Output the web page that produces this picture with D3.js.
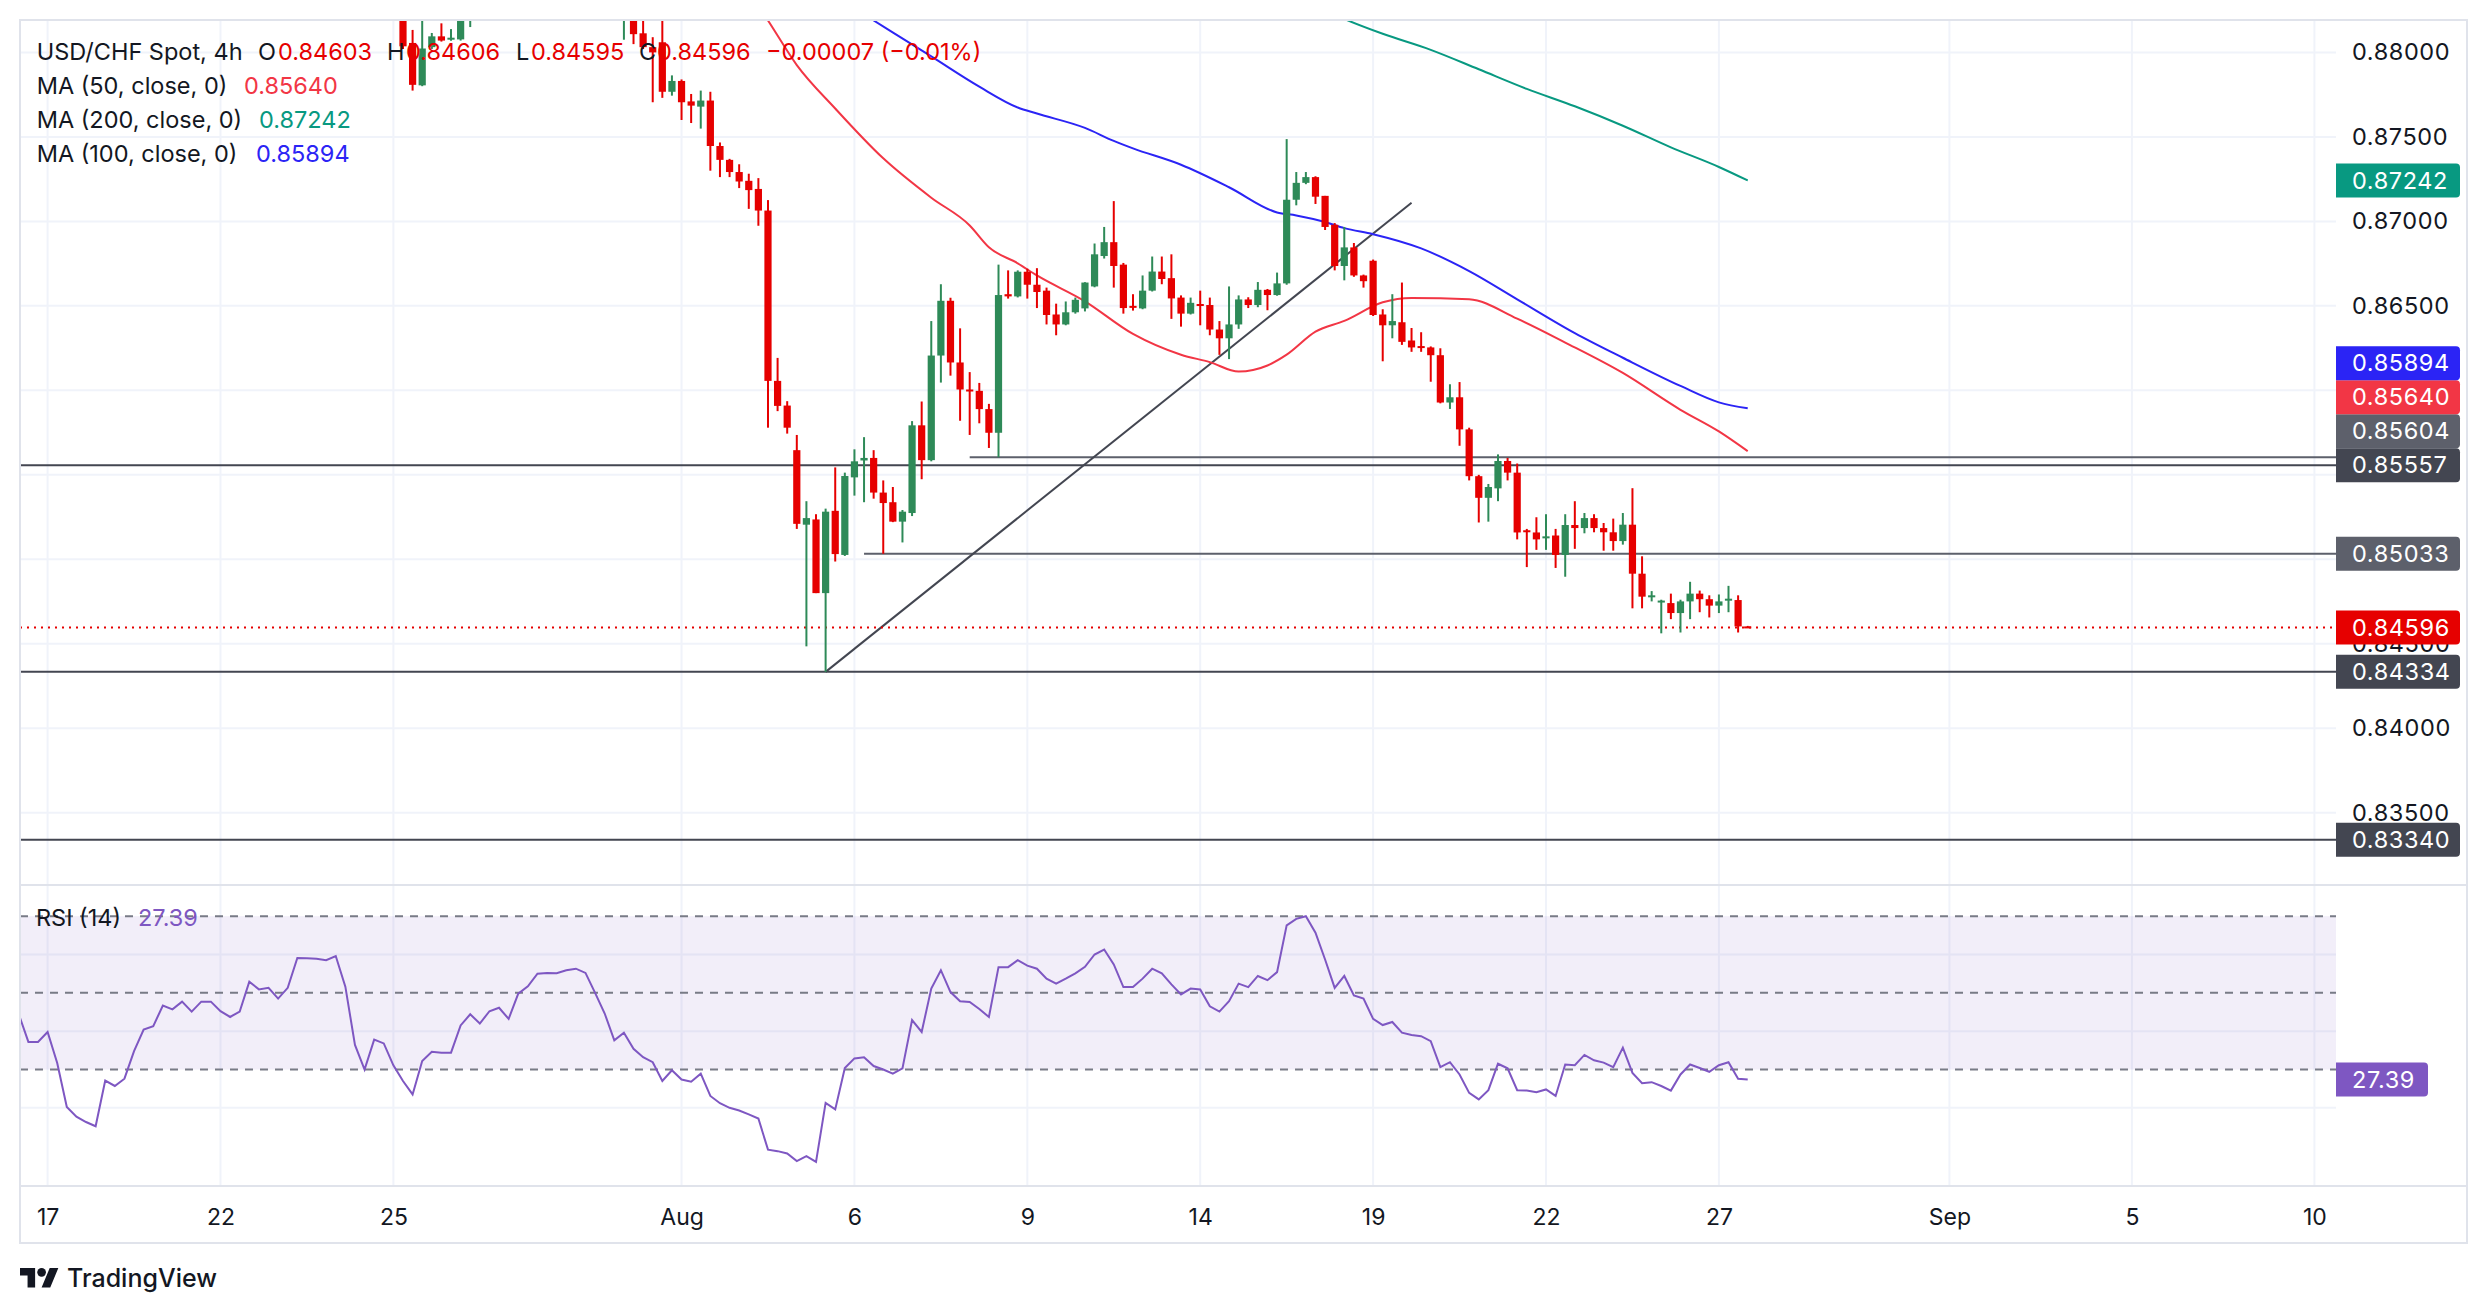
<!DOCTYPE html>
<html><head><meta charset="utf-8">
<script src="https://cdn.jsdelivr.net/npm/d3@7"></script>
<style>html,body{margin:0;padding:0;background:#fff;overflow:hidden}svg{display:block;font-family:Inter,"Noto Sans",sans-serif}</style>
</head><body><svg id="c" width="2488" height="1314"></svg>
<script>
// ---------------- DATA ----------------
const candleStart = 37; // bar index of first candle (bar 0 = Jul 17 first 4h bar)
const opens = [0.8832,0.88056,0.87805,0.88031,0.88095,0.88082,0.88077,
0.8819,0.8826,0.8823,0.8830,0.8832,0.8827,0.8846,0.8854,0.8870,0.8872,0.8871,0.8878,0.8882,0.8876,0.8860,
0.8840,0.8826,0.8830,0.88113,0.88031,0.8806,0.87767,0.87831,0.8771,0.87679,0.87715,0.87446,0.87364,0.87292,0.8724,0.87192,
0.87064,0.86056,0.8591,0.85646,0.85205,0.85236,0.848,0.85287,0.85026,0.85485,0.85585,0.856,0.85395,0.85338,0.85223,
0.85274,0.85793,0.85587,0.86206,0.8653,0.86165,0.86005,0.85997,0.85889,0.85749,0.86569,0.86556,0.86702,0.86625,0.8659,
0.86449,0.8639,0.86462,0.86485,0.86615,0.86795,0.86877,0.86744,0.865,0.86485,0.8659,0.86703,0.86664,0.86549,0.86454,
0.86511,0.86505,0.8636,0.86308,0.8639,0.86538,0.86505,0.86595,0.86564,0.86633,0.87128,0.87228,0.87262,0.87151,0.8698,
0.86736,0.86846,0.8668,0.86767,0.86449,0.86385,0.86403,0.86295,0.86262,0.86254,0.86208,0.85928,0.85959,0.85769,0.85492,
0.85364,0.8542,0.85582,0.85513,0.85172,0.85159,0.85128,0.85141,0.85026,0.85203,0.85185,0.85244,0.85185,0.8516,0.85108,
0.85205,0.84915,0.84779,0.84748,0.84741,0.84682,0.84751,0.84797,0.84764,0.84726,0.84761,0.84759,0.84603];
const highs = [0.8838,0.88133,0.8826,0.88115,0.88172,0.88138,0.8828,
0.8830,0.8832,0.8834,0.8836,0.8835,0.8850,0.8858,0.8875,0.8878,0.8880,0.8885,0.8890,0.8886,0.8878,0.8864,
0.8845,0.8838,0.8833,0.8822,0.8809,0.8822,0.87864,0.8784,0.87754,0.87774,0.87767,0.87467,0.8737,0.87338,0.87282,0.87256,
0.87126,0.86192,0.85936,0.85736,0.85344,0.85267,0.853,0.85544,0.85513,0.85651,0.85723,0.85646,0.85467,0.85428,0.85292,
0.85818,0.85934,0.8641,0.86628,0.86548,0.86367,0.86108,0.86044,0.8592,0.86744,0.8671,0.8671,0.8672,0.86723,0.86608,
0.86513,0.86526,0.86549,0.8664,0.86869,0.86967,0.8712,0.86754,0.86569,0.8668,0.86792,0.86792,0.86805,0.86562,0.86549,
0.8659,0.86549,0.8641,0.86615,0.86562,0.86551,0.86641,0.866,0.86697,0.87487,0.87292,0.87292,0.87267,0.87151,0.8699,
0.86967,0.86872,0.86685,0.86774,0.8648,0.86569,0.86638,0.86369,0.86344,0.8626,0.86249,0.86036,0.86049,0.85779,0.855,
0.85446,0.85621,0.856,0.85567,0.8518,0.85249,0.85267,0.8518,0.85267,0.85344,0.85274,0.85267,0.85215,0.85241,0.85274,
0.85421,0.85018,0.84812,0.84761,0.84797,0.84761,0.84867,0.84815,0.84787,0.84792,0.84843,0.84787,0.84606];
const lows = [0.8802,0.87774,0.8780,0.8802,0.88064,0.88069,0.8807,
0.8815,0.8820,0.8820,0.8826,0.8824,0.8825,0.8842,0.8850,0.8862,0.8865,0.8868,0.8872,0.8872,0.8856,0.8838,
0.8821,0.88075,0.88049,0.8802,0.87705,0.87731,0.87744,0.876,0.87582,0.87549,0.873,0.87262,0.87262,0.87197,0.87074,0.86974,
0.85779,0.85877,0.85744,0.8518,0.84485,0.848,0.84334,0.84987,0.8502,0.85377,0.85338,0.85359,0.85033,0.8522,0.851,
0.85256,0.85474,0.8558,0.86046,0.86087,0.8582,0.85736,0.85805,0.85659,0.85604,0.86543,0.8655,0.86543,0.86487,0.8639,
0.86326,0.86385,0.86454,0.86467,0.8661,0.8678,0.86608,0.86454,0.86472,0.8648,0.86585,0.86628,0.86423,0.86377,0.86449,
0.86385,0.86326,0.8621,0.86185,0.86364,0.86487,0.86492,0.86474,0.8656,0.86625,0.87095,0.8722,0.87103,0.86949,0.8671,
0.86651,0.86672,0.86608,0.8644,0.86172,0.86308,0.86269,0.86228,0.86228,0.86051,0.85923,0.8589,0.85672,0.85467,0.85218,
0.85223,0.85344,0.85467,0.85118,0.84954,0.85056,0.85056,0.84949,0.84897,0.85062,0.85154,0.8516,0.85051,0.85051,0.85087,
0.8471,0.8471,0.84751,0.84562,0.84646,0.84567,0.84646,0.84687,0.84656,0.84682,0.84687,0.84567,0.84595];
const closes = [0.88036,0.87808,0.88023,0.88095,0.8807,0.88087,0.8825,
0.8826,0.8823,0.8830,0.8832,0.8827,0.8846,0.8854,0.8870,0.8872,0.8871,0.8878,0.8882,0.8876,0.8860,0.8842,
0.8826,0.8830,0.88108,0.88031,0.8800,0.87767,0.87831,0.87705,0.87685,0.87715,0.87446,0.87364,0.87292,0.87236,0.87185,0.87064,
0.86056,0.85908,0.85779,0.8521,0.85244,0.848,0.85282,0.85031,0.85493,0.8558,0.856,0.85395,0.85333,0.85223,0.85282,
0.85793,0.85587,0.86206,0.8653,0.86165,0.86005,0.85995,0.85889,0.85749,0.86564,0.86556,0.86702,0.86625,0.86582,0.86446,
0.8639,0.86462,0.86536,0.86638,0.86805,0.86877,0.86736,0.86487,0.86492,0.8659,0.86703,0.86659,0.86544,0.86454,0.86518,
0.86505,0.8636,0.86308,0.8639,0.86538,0.86505,0.86595,0.86564,0.86633,0.87128,0.87228,0.87262,0.87146,0.86967,0.86736,
0.86846,0.8668,0.86646,0.86446,0.86385,0.8641,0.86287,0.86254,0.86254,0.86208,0.85928,0.85959,0.85769,0.85492,0.85364,
0.85428,0.85582,0.85513,0.85159,0.85164,0.85118,0.85136,0.85026,0.85203,0.85185,0.85244,0.85185,0.8516,0.85108,0.85205,
0.84915,0.84779,0.84787,0.84756,0.84682,0.84751,0.84797,0.84764,0.84726,0.84751,0.84767,0.84603,0.84596];

const rsiStart = -3;
const rsiValues = [44.4,37.2,37.2,39.8,31.7,20.2,17.7,16.3,15.2,27.1,25.7,27.6,34.8,
40.4,41.3,46.7,45.7,47.7,45.1,47.7,47.7,45.2,43.7,
45.1,52.9,50.9,51.3,48.5,51.3,59.1,59.0,58.9,58.5,
59.6,51.6,36.4,30.0,37.8,36.8,31.1,27.0,23.5,32.2,
34.6,34.4,34.4,41.5,44.4,42.0,45.2,46.1,43.2,49.8,
51.7,55.0,55.2,55.1,55.9,56.3,55.2,50.0,44.6,37.6,
39.6,35.4,33.2,31.9,27.0,29.8,27.4,26.8,28.9,23.1,
21.2,20.0,19.3,18.3,17.2,9.1,8.7,8.1,6.1,7.4,
5.9,21.3,19.6,30.4,32.9,33.2,30.9,30.0,28.9,30.3,
42.9,39.8,51.1,55.9,50.2,47.8,47.6,45.8,43.7,56.7,
56.7,58.5,57.1,56.3,53.7,52.4,53.7,55.1,56.8,60.0,
61.3,57.4,51.5,51.5,53.7,56.3,55.1,52.2,49.6,51.1,
50.9,46.5,45.1,47.8,52.4,51.5,54.4,53.3,55.4,67.6,
69.3,70.0,65.7,58.7,51.3,54.4,49.3,48.5,43.2,41.6,
42.4,39.6,39.0,38.7,37.4,30.6,31.9,28.7,23.9,22.2,
24.6,31.5,30.3,24.6,24.5,24.1,24.8,23.1,31.3,31.1,
33.8,32.4,31.8,30.6,35.7,29.1,26.4,26.7,25.7,24.5,
28.7,31.3,30.4,29.4,31.1,31.9,27.6,27.39];

const ma50Bars = [73,75,78,82,87,92,96,98,101,103,108,113,118,121,124,127,129,132,135,139,142,148,153,158,164,170,174,177];
const ma50Values = [0.8836,0.88189,0.87925,0.87668,0.87373,0.8714,0.86976,0.86847,0.86752,0.8668,0.86527,0.86334,0.86211,0.86167,0.86111,0.86147,0.86211,0.86347,0.86411,0.86521,0.86547,0.86539,0.86424,0.86283,0.86103,0.85885,0.85757,0.8564];
const ma100Bars = [84,86,92,97,101,103,108,111,113,118,123,128,130,133,135,138,143,148,153,159,164,170,174,177];
const ma100Values = [0.8826,0.88189,0.87976,0.87797,0.87674,0.87638,0.87553,0.87476,0.87432,0.87335,0.87202,0.87053,0.87035,0.86996,0.8696,0.86924,0.8684,0.86706,0.86539,0.86339,0.86193,0.86026,0.85929,0.85894];
const ma200Bars = [133,135,139,144,149,154,159,164,169,174,177];
const ma200Values = [0.8825,0.88198,0.8811,0.88015,0.8790,0.87784,0.87681,0.87566,0.87438,0.87322,0.87242];

const tickBars = [0,18,36,66,84,102,120,138,156,174,198,217,236];
const tickLabels = ["17","22","25","Aug","6","9","14","19","22","27","Sep","5","10"];
const priceTicks = [0.835,0.84,0.845,0.85,0.855,0.86,0.865,0.87,0.875,0.88];
const rsiTicks = [0,20,40,60];
const rsiLevels = [70,50,30];

const levelPrices = [0.85557,0.85604,0.85033,0.84334,0.83340];
const levelStartBars = [null,96,85,null,null];
const levelColors = ["#434651","#5d606b","#5d606b","#434651","#434651"];
const trendBars = [81,142];
const trendPrices = [0.84334,0.8711];
const lastPrice = 0.84596;

const boxPrices = [0.87242,0.85894,0.85640,0.85604,0.85557,0.85033,0.84596,0.84334,0.83340];
const boxColors = ["#089981","#2b24f5","#f23645","#5d606b","#434651","#5d606b","#e60000","#434651","#434651"];

// ---------------- LAYOUT ----------------
const paneL=20, paneR=2336, priceTop=20, priceBot=884, rsiTop=886, rsiBot=1185, axisBot=1243, frameR=2467;
const UP="#2e8a58", DOWN="#e60000", TXT="#131722";
const FONT='Inter,"Noto Sans",sans-serif';
const AXFS=23.5, AXLS=0.6, LGFS=23.5;

const x = d3.scaleLinear().domain([0,174]).range([47.6,1718.9]);
const y = d3.scaleLinear().domain([0.84,0.88]).range([728.3,52.4]);
const ry = d3.scaleLinear().domain([0,60]).range([1184.5,954.5]);

const svg = d3.select("#c");
svg.append("rect").attr("width",2488).attr("height",1314).attr("fill","#fff");
const defs = svg.append("defs");
defs.append("clipPath").attr("id","cp").append("rect").attr("x",paneL).attr("y",priceTop).attr("width",paneR-paneL).attr("height",priceBot-priceTop);
defs.append("clipPath").attr("id","cr").append("rect").attr("x",paneL).attr("y",rsiTop).attr("width",paneR-paneL).attr("height",rsiBot-rsiTop);

// grid
const grid = svg.append("g").attr("stroke","#f0f3fa").attr("stroke-width",2);
grid.selectAll(".v").data(tickBars).join("line").attr("x1",d=>x(d)).attr("x2",d=>x(d)).attr("y1",priceTop).attr("y2",rsiBot);
grid.selectAll(".h").data(priceTicks).join("line").attr("x1",paneL).attr("x2",paneR).attr("y1",d=>y(d)).attr("y2",d=>y(d));
grid.selectAll(".r").data(rsiTicks.filter(d=>d>0)).join("line").attr("x1",paneL).attr("x2",paneR).attr("y1",d=>ry(d)).attr("y2",d=>ry(d));

// RSI band
svg.append("rect").attr("x",paneL).attr("width",paneR-paneL).attr("y",ry(70)).attr("height",ry(30)-ry(70)).attr("fill","rgba(126,87,194,0.1)");
svg.append("g").selectAll("line").data(rsiLevels).join("line")
  .attr("x1",paneL).attr("x2",paneR).attr("y1",d=>ry(d)).attr("y2",d=>ry(d))
  .attr("stroke","#787b86").attr("stroke-width",2).attr("stroke-dasharray","8 7");

// price pane content
const pg = svg.append("g").attr("clip-path","url(#cp)");
levelPrices.forEach((p,i)=>{
  const x0 = levelStartBars[i]==null ? paneL : x(levelStartBars[i]);
  pg.append("line").attr("x1",x0).attr("x2",paneR).attr("y1",y(p)).attr("y2",y(p)).attr("stroke",levelColors[i]).attr("stroke-width",2);
});
pg.append("line").attr("x1",x(trendBars[0])).attr("y1",y(trendPrices[0])).attr("x2",x(trendBars[1])).attr("y2",y(trendPrices[1])).attr("stroke","#434651").attr("stroke-width",2);
pg.append("line").attr("x1",paneL).attr("x2",paneR).attr("y1",y(lastPrice)).attr("y2",y(lastPrice)).attr("stroke",DOWN).attr("stroke-width",2).attr("stroke-dasharray","2 5");

const maLine = d3.line().x(d=>x(d[0])).y(d=>y(d[1])).curve(d3.curveMonotoneX);
[[ma200Bars,ma200Values,"#089981"],[ma100Bars,ma100Values,"#2b24f5"],[ma50Bars,ma50Values,"#f23645"]].forEach(([b,v,c])=>{
  pg.append("path").attr("d",maLine(b.map((d,i)=>[d,v[i]]))).attr("fill","none").attr("stroke",c).attr("stroke-width",2);
});

const candles = opens.map((o,i)=>({i:candleStart+i,o,h:highs[i],l:lows[i],c:closes[i]}));
const cg = pg.append("g");
candles.forEach(d=>{
  const col = d.c>=d.o?UP:DOWN, cx=x(d.i);
  cg.append("line").attr("x1",cx).attr("x2",cx).attr("y1",y(d.h)).attr("y2",y(d.l)).attr("stroke",col).attr("stroke-width",2);
  const top=y(Math.max(d.o,d.c)), bot=y(Math.min(d.o,d.c));
  cg.append("rect").attr("x",cx-3.6).attr("width",7.2).attr("y",top).attr("height",Math.max(2,bot-top)).attr("fill",col);
});

// RSI line
const rg = svg.append("g").attr("clip-path","url(#cr)");
const rsiLine = d3.line().x((d,i)=>x(rsiStart+i)).y(d=>ry(d));
rg.append("path").attr("d",rsiLine(rsiValues)).attr("fill","none").attr("stroke","#7e57c2").attr("stroke-width",2);

// frame
const fr = svg.append("g").attr("stroke","#e0e3eb").attr("stroke-width",2).attr("fill","none");
fr.append("rect").attr("x",paneL).attr("y",priceTop).attr("width",frameR-paneL).attr("height",axisBot-priceTop);
fr.append("line").attr("x1",paneL).attr("x2",frameR).attr("y1",priceBot+1).attr("y2",priceBot+1);
fr.append("line").attr("x1",paneL).attr("x2",frameR).attr("y1",rsiBot+1).attr("y2",rsiBot+1);

// label boxes with collision (computed first so covered tick labels can be hidden)
const BH=34, BW=124;
const boxes = boxPrices.map((p,i)=>({p,c:boxColors[i],yy:y(p)})).sort((a,b)=>b.yy-a.yy);
let prev = Infinity;
boxes.forEach(b=>{ b.yy = Math.min(b.yy, prev-BH); prev=b.yy; });
const visibleTicks = priceTicks.filter(t=>boxes.every(b=>Math.abs(y(t)-b.yy)>=13));

// price axis
const pa = svg.append("g").attr("transform",`translate(${paneR},0)`)
  .call(d3.axisRight(y).tickValues(visibleTicks).tickFormat(d3.format(".5f")).tickSize(0).tickPadding(16));
pa.select(".domain").remove();
pa.selectAll("text").attr("font-size",AXFS).attr("letter-spacing",AXLS).attr("font-family",FONT).attr("fill",TXT);

// rsi axis
defs.append("clipPath").attr("id","ca").append("rect").attr("x",paneR).attr("y",rsiTop).attr("width",200).attr("height",rsiBot-rsiTop+1);
const ra = svg.append("g").attr("transform",`translate(${paneR},0)`).attr("clip-path","url(#ca)")
  .call(d3.axisRight(ry).tickValues(rsiTicks).tickFormat(d3.format(".2f")).tickSize(0).tickPadding(16));
ra.select(".domain").remove();
ra.selectAll("text").attr("font-size",AXFS).attr("letter-spacing",AXLS).attr("font-family",FONT).attr("fill",TXT);

// time axis
const ta = svg.append("g").attr("transform",`translate(0,${rsiBot})`)
  .call(d3.axisBottom(x).tickValues(tickBars).tickFormat((d,i)=>tickLabels[i]).tickSize(0).tickPadding(24));
ta.select(".domain").remove();
ta.selectAll("text").attr("font-size",23).attr("font-family",FONT).attr("fill",TXT);

function boxPath(x0,y0,w,h,r){return `M${x0},${y0}H${x0+w-r}Q${x0+w},${y0} ${x0+w},${y0+r}V${y0+h-r}Q${x0+w},${y0+h} ${x0+w-r},${y0+h}H${x0}Z`;}
const bg = svg.append("g");
boxes.forEach(b=>{
  bg.append("path").attr("d",boxPath(paneR,b.yy-BH/2,BW,BH,4)).attr("fill",b.c);
  bg.append("text").attr("x",paneR+16).attr("y",b.yy).attr("dy","0.35em").attr("font-size",AXFS).attr("letter-spacing",AXLS).attr("font-family",FONT).attr("fill","#fff").text(d3.format(".5f")(b.p));
});
const rv = rsiValues[rsiValues.length-1];
bg.append("path").attr("d",boxPath(paneR,ry(rv)-BH/2,92,BH,4)).attr("fill","#7e57c2");
bg.append("text").attr("x",paneR+16).attr("y",ry(rv)).attr("dy","0.35em").attr("font-size",AXFS).attr("letter-spacing",AXLS).attr("font-family",FONT).attr("fill","#fff").text(rv.toFixed(2));

// legend
const lg = svg.append("g").attr("font-size",LGFS).attr("font-family",FONT);
function t(xx,yy,s,c){lg.append("text").attr("x",xx).attr("y",yy).attr("dy","0.35em").attr("fill",c).text(s);}
const last = candles[candles.length-1], prevC = candles[candles.length-2].c;
const f5 = d3.format(".5f");
const chg = last.c-prevC;
t(36.7,52,"USD/CHF Spot, 4h",TXT);
t(258,52,"O",TXT); t(278,52,f5(last.o),DOWN);
t(387,52,"H",TXT); t(406,52,f5(last.h),DOWN);
t(516,52,"L",TXT); t(531,52,f5(last.l),DOWN);
t(639,52,"C",TXT); t(657,52,f5(last.c),DOWN);
t(766,52,"\u2212"+f5(Math.abs(chg))+" (\u2212"+(Math.abs(chg)/prevC*100).toFixed(2)+"%)",DOWN);
t(36.7,86,"MA (50, close, 0)",TXT); t(244,86,f5(ma50Values[ma50Values.length-1]),"#f23645");
t(36.7,120,"MA (200, close, 0)",TXT); t(259,120,f5(ma200Values[ma200Values.length-1]),"#089981");
t(36.7,154,"MA (100, close, 0)",TXT); t(256,154,f5(ma100Values[ma100Values.length-1]),"#2b24f5");
t(36,918,"RSI (14)",TXT); t(138,918,rv.toFixed(2),"#7e57c2");

// footer logo
const logo = svg.append("g").attr("transform","translate(20,1263.7) scale(1.08)").attr("fill",TXT);
logo.append("path").attr("d","M14 22H7V11H0V4h14v18zM28 22h-8l7.5-18h8L28 22z");
logo.append("circle").attr("cx",20).attr("cy",8).attr("r",4);
svg.append("text").attr("x",67).attr("y",1278).attr("dy","0.35em").attr("font-size",25).attr("font-weight",500).attr("font-family",FONT).attr("fill",TXT).text("TradingView");
</script></body></html>
